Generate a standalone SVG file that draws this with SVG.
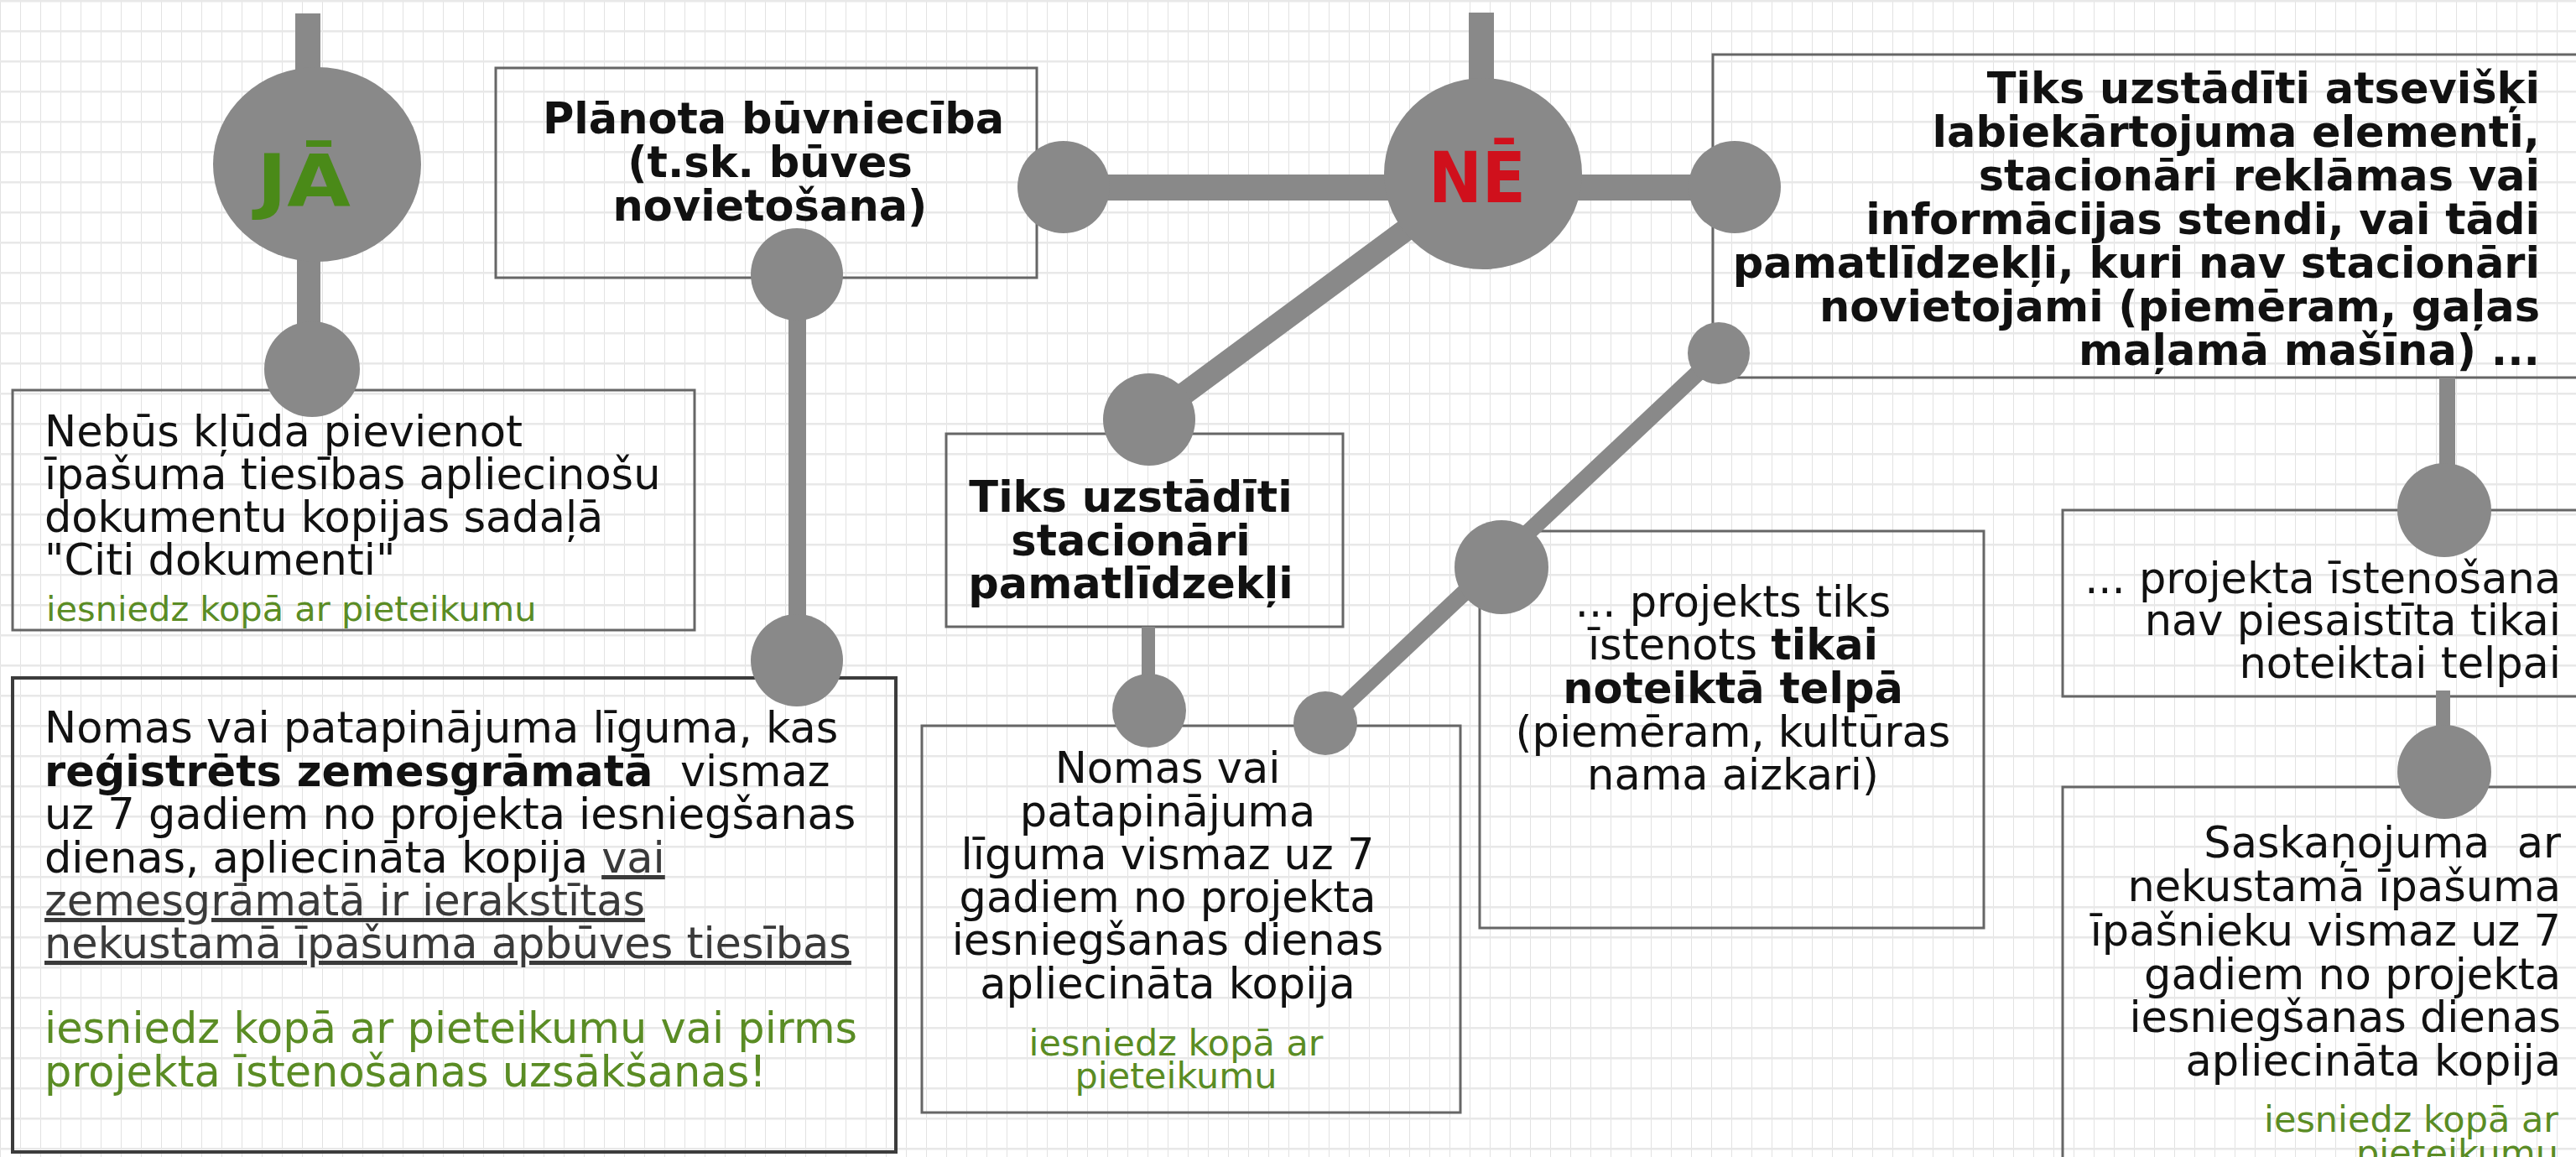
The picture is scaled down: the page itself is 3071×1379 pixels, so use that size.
<svg xmlns="http://www.w3.org/2000/svg" width="3071" height="1379" viewBox="0 0 3071 1379">
<defs>
<pattern id="grid" width="24" height="36" patternUnits="userSpaceOnUse">
<rect width="24" height="36" fill="#ffffff"/>
<path d="M0.5 0V36" stroke="#e2e2e2" stroke-width="1"/>
<path d="M0 1H24" stroke="#e8e8e8" stroke-width="3"/>
</pattern>
<style>
.box{fill:none;stroke:#666;stroke-width:3}
.boxd{fill:none;stroke:#3c3c3c;stroke-width:4}
.t{font-family:"DejaVu Sans",Verdana,sans-serif;font-size:51px;fill:#111}
.b{font-weight:bold}
.g{font-family:"DejaVu Sans",Verdana,sans-serif;font-size:43px;fill:#5a8c24}
.u{fill:#3a3a3a;text-decoration:underline}
.dot{fill:#898989}
.bar{fill:#898989}
.ln{stroke:#898989;fill:none}
.big{font-family:"DejaVu Sans",Verdana,sans-serif;font-weight:bold;font-size:86px}
</style>
</defs>
<rect width="3071" height="1379" fill="url(#grid)"/>

<g id="node-nebus">
<rect class="box" x="15" y="465" width="813" height="286"/>
<text class="t" x="53" y="532">Nebūs kļūda pievienot</text>
<text class="t" x="53" y="583">īpašuma tiesības apliecinošu</text>
<text class="t" x="53" y="634">dokumentu kopijas sadaļā</text>
<text class="t" x="53" y="685">"Citi dokumenti"</text>
<text class="g" x="55" y="740" style="font-size:41.5px">iesniedz kopā ar pieteikumu</text>
</g>

<g id="node-nomas-zemesgramata">
<rect class="boxd" x="15" y="808" width="1053" height="565"/>
<text class="t" x="53" y="885">Nomas vai patapinājuma līguma, kas</text>
<text class="t" x="53" y="937" xml:space="preserve"><tspan class="b">reģistrēts zemesgrāmatā</tspan>  vismaz</text>
<text class="t" x="53" y="988">uz 7 gadiem no projekta iesniegšanas</text>
<text class="t" x="53" y="1040">dienas, apliecināta kopija <tspan class="u">vai</tspan></text>
<text class="t u" x="53" y="1091">zemesgrāmatā ir ierakstītas</text>
<text class="t u" x="53" y="1142">nekustamā īpašuma apbūves tiesības</text>
<text class="t" x="53" y="1243" style="fill:#5a8c24">iesniedz kopā ar pieteikumu vai pirms</text>
<text class="t" x="53" y="1295" style="fill:#5a8c24">projekta īstenošanas uzsākšanas!</text>
</g>

<g id="node-planota">
<rect class="box" x="591" y="81" width="645" height="250"/>
<text class="t b" x="922" y="159" text-anchor="middle">Plānota būvniecība</text>
<text class="t b" x="918" y="211" text-anchor="middle">(t.sk. būves</text>
<text class="t b" x="918" y="263" text-anchor="middle">novietošana)</text>
</g>

<g id="node-atseviski">
<rect class="box" x="2042" y="65" width="1040" height="385"/>
<g class="t b" text-anchor="end">
<text x="3028" y="123">Tiks uzstādīti atsevišķi</text>
<text x="3028" y="175">labiekārtojuma elementi,</text>
<text x="3028" y="227">stacionāri reklāmas vai</text>
<text x="3028" y="279">informācijas stendi, vai tādi</text>
<text x="3028" y="331">pamatlīdzekļi, kuri nav stacionāri</text>
<text x="3028" y="383">novietojami (piemēram, gaļas</text>
<text x="3028" y="435">maļamā mašīna) ...</text>
</g>
</g>

<g id="node-stacionari">
<rect class="box" x="1128" y="517" width="473" height="230"/>
<g class="t b" text-anchor="middle">
<text x="1348" y="610">Tiks uzstādīti</text>
<text x="1348" y="662">stacionāri</text>
<text x="1348" y="713">pamatlīdzekļi</text>
</g>
</g>

<g id="node-nomas-7">
<rect class="box" x="1099" y="865" width="642" height="461"/>
<g class="t" text-anchor="middle">
<text x="1392" y="933">Nomas vai</text>
<text x="1392" y="985">patapinājuma</text>
<text x="1392" y="1036">līguma vismaz uz 7</text>
<text x="1392" y="1087">gadiem no projekta</text>
<text x="1392" y="1138">iesniegšanas dienas</text>
<text x="1392" y="1190">apliecināta kopija</text>
</g>
<g class="g" text-anchor="middle">
<text x="1402" y="1258">iesniedz kopā ar</text>
<text x="1402" y="1297">pieteikumu</text>
</g>
</g>

<g id="node-telpa">
<rect class="box" x="1764" y="633" width="601" height="473"/>
<g class="t" text-anchor="middle">
<text x="2066" y="735">... projekts tiks</text>
<text x="2066" y="786">īstenots <tspan class="b">tikai</tspan></text>
<text x="2066" y="838" class="b">noteiktā telpā</text>
<text x="2066" y="890">(piemēram, kultūras</text>
<text x="2066" y="941">nama aizkari)</text>
</g>
</g>

<g id="node-nav-piesaistita">
<rect class="box" x="2459" y="608" width="620" height="222"/>
<g class="t" text-anchor="end">
<text x="3053" y="707">... projekta īstenošana</text>
<text x="3053" y="757">nav piesaistīta tikai</text>
<text x="3053" y="808">noteiktai telpai</text>
</g>
</g>

<g id="node-saskanojums">
<rect class="box" x="2459" y="938" width="620" height="500"/>
<g class="t" text-anchor="end">
<text x="3053" y="1022" xml:space="preserve">Saskaņojuma  ar</text>
<text x="3053" y="1074">nekustamā īpašuma</text>
<text x="3053" y="1127">īpašnieku vismaz uz 7</text>
<text x="3053" y="1179">gadiem no projekta</text>
<text x="3053" y="1230">iesniegšanas dienas</text>
<text x="3053" y="1282">apliecināta kopija</text>
</g>
<g class="g" text-anchor="end">
<text x="3050" y="1349">iesniedz kopā ar</text>
<text x="3050" y="1389">pieteikumu</text>
</g>
</g>

<g id="connectors">
<rect class="bar" x="352" y="16" width="30" height="90"/>
<rect class="bar" x="354" y="290" width="28" height="150"/>
<rect class="bar" x="1751" y="15" width="30" height="100"/>
<rect class="bar" x="1268" y="208" width="800" height="31"/>
<line class="ln" x1="1768" y1="206" x2="1370" y2="500" stroke-width="27"/>
<line class="ln" x1="2049" y1="421" x2="1580" y2="862" stroke-width="20"/>
<rect class="bar" x="940" y="327" width="21" height="460"/>
<rect class="bar" x="1361" y="747" width="16" height="100"/>
<rect class="bar" x="2908" y="450" width="19" height="158"/>
<rect class="bar" x="2904" y="823" width="17" height="97"/>
<circle class="dot" cx="372" cy="440" r="57"/>
<circle class="dot" cx="950" cy="327" r="55"/>
<circle class="dot" cx="950" cy="787" r="55"/>
<circle class="dot" cx="1268" cy="223" r="55"/>
<circle class="dot" cx="2068" cy="223" r="55"/>
<circle class="dot" cx="1370" cy="500" r="55"/>
<circle class="dot" cx="2049" cy="421" r="37"/>
<circle class="dot" cx="1790" cy="676" r="56"/>
<circle class="dot" cx="1580" cy="862" r="38"/>
<circle class="dot" cx="1370" cy="847" r="44"/>
<circle class="dot" cx="2914" cy="608" r="56"/>
<circle class="dot" cx="2914" cy="920" r="56"/>
</g>

<g id="node-ja">
<ellipse class="dot" cx="378" cy="196" rx="124" ry="116"/>
<text class="big" x="306" y="245" fill="#4a8a18" textLength="112" lengthAdjust="spacingAndGlyphs">JĀ</text>
</g>

<g id="node-ne">
<ellipse class="dot" cx="1768" cy="207" rx="118" ry="114"/>
<text class="big" x="1703" y="241" fill="#d0101c" style="font-size:84px" textLength="116" lengthAdjust="spacingAndGlyphs">NĒ</text>
</g>
</svg>
